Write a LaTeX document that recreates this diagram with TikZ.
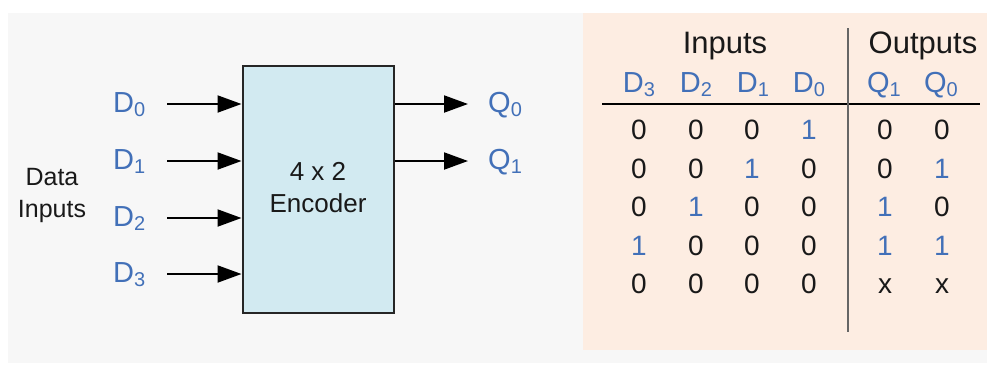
\documentclass[tikz,border=0pt]{standalone}
\usepackage{fontspec}
\setmainfont{Liberation Sans}
\usetikzlibrary{arrows.meta}
\definecolor{sigblue}{RGB}{66,112,184}
\definecolor{bggray}{RGB}{247,247,247}
\definecolor{peach}{RGB}{253,237,226}
\definecolor{boxblue}{RGB}{210,234,241}
\definecolor{txt}{RGB}{25,25,25}
\newcommand{\sigsub}[2]{#1\raisebox{-4.5pt}{\fontsize{20}{20}\selectfont #2}}
\tikzset{
  sig/.style={inner sep=0pt, text=sigblue, font=\fontsize{29}{29}\selectfont, anchor=base west},
  hd/.style={inner sep=0pt, text=sigblue, font=\fontsize{29}{29}\selectfont, anchor=base},
  cell/.style={inner sep=0pt, text=txt, font=\fontsize{28}{28}\selectfont, anchor=base},
  one/.style={cell, text=sigblue},
  title/.style={inner sep=0pt, text=txt, font=\fontsize{31}{31}\selectfont, anchor=base},
  lbl/.style={inner sep=0pt, text=txt, font=\fontsize{25}{25}\selectfont, anchor=base},
  arr/.style={line width=2pt, -{Triangle[length=24pt,width=17pt]}},
  encbox/.style={draw=black!85, line width=2pt, fill=boxblue, minimum width=151pt, minimum height=247pt, inner sep=0pt}
}
\begin{document}
\begin{tikzpicture}[x=1pt,y=1pt]
\useasboundingbox (0,0) rectangle (987,-365);
\fill[bggray] (8,-13) rectangle (987,-363);
\fill[peach] (583,-13) rectangle (987,-350);

% encoder block
\node[encbox] (box) at (318,-189.5) {};
\node[lbl, font=\fontsize{26}{26}\selectfont] (t1) at (318,-180) {4 x 2};
\node[lbl, font=\fontsize{26}{26}\selectfont] (t2) at (318,-212) {Encoder};

% data inputs label
\node[lbl] (di1) at (52,-185) {Data};
\node[lbl] (di2) at (52,-217) {Inputs};

% input labels and arrows
\node[sig] (d0) at (113,-112) {\sigsub{D}{0}};
\node[sig] (d1) at (113,-169) {\sigsub{D}{1}};
\node[sig] (d2) at (113,-226) {\sigsub{D}{2}};
\node[sig] (d3) at (113,-282) {\sigsub{D}{3}};
\coordinate (a0) at (167,-104);
\coordinate (a1) at (167,-161);
\coordinate (a2) at (167,-218);
\coordinate (a3) at (167,-274);
\draw[arr] (a0) -- (a0 -| box.west);
\draw[arr] (a1) -- (a1 -| box.west);
\draw[arr] (a2) -- (a2 -| box.west);
\draw[arr] (a3) -- (a3 -| box.west);

% outputs
\coordinate (o0) at (468,-104);
\coordinate (o1) at (468,-161);
\draw[arr] (o0 -| box.east) -- (o0);
\draw[arr] (o1 -| box.east) -- (o1);
\node[sig] (q0) at (488,-112) {\sigsub{Q}{0}};
\node[sig] (q1) at (488,-169) {\sigsub{Q}{1}};

% truth table
\node[title] (tin) at (725,-53) {Inputs};
\node[title] (tout) at (923,-53) {Outputs};
\node[hd] (h3) at (639,-92) {\sigsub{D}{3}};
\node[hd] (h2) at (696,-92) {\sigsub{D}{2}};
\node[hd] (h1) at (753,-92) {\sigsub{D}{1}};
\node[hd] (h0) at (809,-92) {\sigsub{D}{0}};
\node[hd] (hq1) at (884,-92) {\sigsub{Q}{1}};
\node[hd] (hq0) at (941,-92) {\sigsub{Q}{0}};
\coordinate (hl) at (602,-104);
\coordinate (hr) at (980,-104);
\draw[line width=1.5pt, black] (hl) -- (hr);
\coordinate (vt) at (848,-28);
\coordinate (vb) at (848,-332);
\draw[line width=2.2pt, black!60] (vt) -- (vb);

% rows
\node[cell] at (639,-139) {0};
\node[cell] at (696,-139) {0};
\node[cell] at (752,-139) {0};
\node[one]  at (809,-139) {1};
\node[cell] at (885,-139) {0};
\node[cell] at (942,-139) {0};

\node[cell] at (639,-178) {0};
\node[cell] at (696,-178) {0};
\node[one]  at (752,-178) {1};
\node[cell] at (809,-178) {0};
\node[cell] at (885,-178) {0};
\node[one]  at (942,-178) {1};

\node[cell] at (639,-216) {0};
\node[one]  at (696,-216) {1};
\node[cell] at (752,-216) {0};
\node[cell] at (809,-216) {0};
\node[one]  at (885,-216) {1};
\node[cell] at (942,-216) {0};

\node[one]  at (639,-255) {1};
\node[cell] at (696,-255) {0};
\node[cell] at (752,-255) {0};
\node[cell] at (809,-255) {0};
\node[one]  at (885,-255) {1};
\node[one]  at (942,-255) {1};

\node[cell] at (639,-293) {0};
\node[cell] at (696,-293) {0};
\node[cell] at (752,-293) {0};
\node[cell] at (809,-293) {0};
\node[cell] at (885,-293) {x};
\node[cell] at (942,-293) {x};
\end{tikzpicture}
\end{document}
